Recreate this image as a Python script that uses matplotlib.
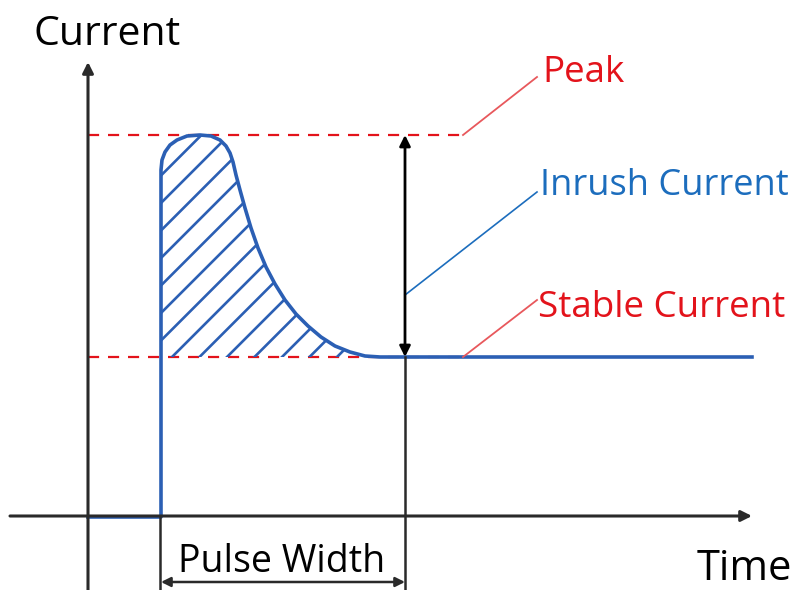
import numpy as np
import matplotlib as mpl
mpl.use("Agg")
from matplotlib import pyplot as plt
from matplotlib.patches import Polygon

plt.rcParams['font.family'] = ['Open Sans', 'DejaVu Sans']

# inrush waveform (time, current) in arbitrary units, origin where the axes cross
wave_t = [0.0, 7.3, 7.3, 7.4, 7.7, 8.2, 8.9, 9.9, 11.2, 12.3, 13.2, 13.8, 14.2,
          14.5, 14.8, 15.2, 15.7, 16.3, 17.0, 17.8, 18.7, 19.7, 20.8, 22.0,
          23.3, 24.7, 26.2, 27.7, 29.2, 66.4]
wave_i = [0.0, 0.0, 34.7, 35.7, 36.5, 37.2, 37.7, 38.1, 38.2, 38.1, 37.7, 37.1,
          36.4, 35.5, 34.2, 32.7, 30.9, 28.9, 26.9, 25.0, 23.3, 21.7, 20.3,
          19.1, 18.0, 17.1, 16.5, 16.1, 16.0, 16.0]

peak_current = 38.2
stable_current = 16.0
pulse_start = 7.2
pulse_end = 31.7

RED = "#e3131b"
RED_LIGHT = "#e8585c"
BLUE_LINE = "#2b5fb4"
BLUE_TEXT = "#1c6dbd"
AXIS = "#2a2a2a"

fig = plt.figure(figsize=(7.95, 5.90), dpi=100)
ax = fig.add_axes([0, 0, 1, 1])
ax.set_xlim(-8.8, 70.7)
ax.set_ylim(-7.3, 51.7)
ax.axis('off')

# axes with arrow heads
ax.annotate('', xy=(0, 45.5), xytext=(0, -7.3),
            arrowprops=dict(arrowstyle='-|>', color=AXIS, lw=2.2,
                            mutation_scale=16, shrinkA=0, shrinkB=0))
ax.annotate('', xy=(66.4, 0.1), xytext=(-7.8, 0.1),
            arrowprops=dict(arrowstyle='-|>', color=AXIS, lw=2.2,
                            mutation_scale=16, shrinkA=0, shrinkB=0))

# reference levels
ax.plot([0, 37.5], [peak_current, peak_current], color=RED, lw=1.6,
        dashes=(5, 4))
ax.plot([0, 37.5], [stable_current, stable_current], color=RED, lw=1.6,
        dashes=(5, 4))

# hatched area under the pulse
area = Polygon(list(zip(wave_t[2:-1], wave_i[2:-1])) + [(pulse_start + 0.1, stable_current)],
               closed=True, facecolor='none', edgecolor='none')
ax.add_patch(area)
for c in np.arange(7.6 - 8 * 2.75, 34, 2.75):
    t = np.array([0.0, 40.0])
    ln, = ax.plot(t, t + c, color=BLUE_LINE, lw=1.9, solid_capstyle='butt')
    ln.set_clip_path(area)

# waveform
ax.plot(wave_t, wave_i, color=BLUE_LINE, lw=2.6, solid_joinstyle='round')

# pulse width markers
ax.plot([pulse_start, pulse_start], [-7.3, 0], color=AXIS, lw=1.8)
ax.plot([pulse_end, pulse_end], [-7.3, stable_current], color=AXIS, lw=1.8)
ax.annotate('', xy=(pulse_end, peak_current), xytext=(pulse_end, stable_current),
            arrowprops=dict(arrowstyle='<|-|>', color='black', lw=2.0,
                            mutation_scale=16, shrinkA=0, shrinkB=0))
ax.annotate('', xy=(pulse_end, -6.5), xytext=(pulse_start + 0.1, -6.5),
            arrowprops=dict(arrowstyle='<|-|>', color=AXIS, lw=1.8,
                            mutation_scale=14, shrinkA=0, shrinkB=0))

# leader lines to the labels
ax.plot([37.5, 44.9], [peak_current, 44.0], color=RED_LIGHT, lw=1.3)
ax.plot([37.5, 44.9], [stable_current, 21.7], color=RED_LIGHT, lw=1.3)
ax.plot([31.7, 44.9], [22.2, 32.5], color=BLUE_TEXT, lw=1.2)

ax.text(-5.5, 47.2, "Current", fontsize=29.5, color='black', va='baseline')
ax.text(45.4, 43.5, "Peak", fontsize=26.5, color=RED, va='baseline')
ax.text(45.2, 32.2, "Inrush Current", fontsize=26, color=BLUE_TEXT, va='baseline')
ax.text(45.0, 20.0, "Stable Current", fontsize=26.5, color=RED, va='baseline')
ax.text(9.0, -5.5, "Pulse Width", fontsize=27, color='black', va='baseline')
ax.text(60.9, -6.3, "Time", fontsize=30, color='black', va='baseline')

fig.savefig("out.png", dpi=100)
